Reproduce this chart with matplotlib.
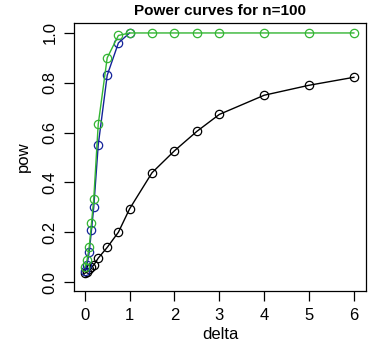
import numpy as np
import matplotlib.pyplot as plt

plt.rcParams['font.family'] = ['Liberation Sans', 'DejaVu Sans']

delta = [0, 0.05, 0.1, 0.15, 0.2, 0.3, 0.5, 0.75, 1, 1.5, 2, 2.5, 3, 4, 5, 6]
pow_black = [0.035, 0.041, 0.052, 0.06, 0.068, 0.096, 0.139, 0.2, 0.294,
             0.439, 0.527, 0.605, 0.673, 0.75, 0.79, 0.822]
pow_green = [0.059, 0.087, 0.142, 0.236, 0.333, 0.633, 0.9, 0.99, 1.0,
             1.0, 1.0, 1.0, 1.0, 1.0, 1.0, 1.0]
delta_blue = [0, 0.05, 0.1, 0.15, 0.2, 0.3, 0.5, 0.75, 1]
pow_blue = [0.045, 0.07, 0.12, 0.21, 0.3, 0.55, 0.83, 0.96, 1.0]

fig = plt.figure(figsize=(3.84, 3.62), dpi=100)
ax = fig.add_axes([74/384, 1-291/362, 292/384, 268/362])

mk = dict(marker='o', mfc='none', ms=6, mew=0.9, lw=1)
ax.plot(delta, pow_black, color='black', **mk)
ax.plot(delta_blue, pow_blue, color='#14239a', **mk)
ax.plot(delta, pow_green, color='#33b533', **mk)

ax.set_xlim(-0.24, 6.27)
ax.set_ylim(-0.036, 1.04)
ax.set_xticks(range(7))
ax.set_yticks([0, 0.2, 0.4, 0.6, 0.8, 1.0])
ax.set_yticklabels(['0.0', '0.2', '0.4', '0.6', '0.8', '1.0'], rotation=90, va='center')
ax.tick_params(labelsize=12, length=7, width=0.9, pad=5)
for s in ax.spines.values():
    s.set_linewidth(0.9)

ax.set_xlabel('delta', fontsize=12, labelpad=3)
ax.set_ylabel('pow', fontsize=12, labelpad=8)
ax.set_title('Power curves for n=100', fontsize=11, fontweight='bold', pad=6)

fig.savefig('out.png', dpi=100)
